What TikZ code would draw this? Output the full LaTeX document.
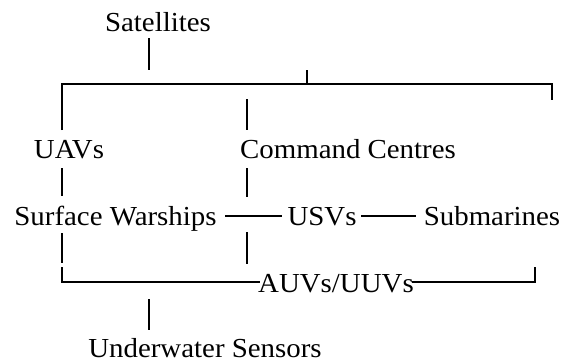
\documentclass[tikz,border=0pt]{standalone}
\usepackage{fontspec}
\setmainfont[FakeStretch=1.05]{Liberation Serif}
\begin{document}
\begin{tikzpicture}[x=1pt,y=-1pt,
  lbl/.style={font=\fontsize{27.5}{31}\selectfont, inner sep=0pt, anchor=base},
  ln/.style={line width=2pt}]
\useasboundingbox (0,0) rectangle (566,362);
% nodes
\node[lbl] (sat) at (158,31) {Satellites};
\node[lbl] (uav) at (69,158) {UAVs};
\node[lbl] (cmd) at (348,158) {Command Centres};
\node[lbl] (sw)  at (115.5,225) {Surface Warships};
\node[lbl] (usv) at (322,225) {USVs};
\node[lbl] (sub) at (492,225) {Submarines};
\node[lbl] (auv) at (336,292) {AUVs/UUVs};
\node[lbl] (uws) at (205,357) {Underwater Sensors};
% free-end coordinates
\coordinate (s1) at (148.5,38);  \coordinate (s2) at (148.5,70);
\coordinate (tl) at (62,130);    \coordinate (tc) at (62,84);
\coordinate (tr) at (552,100);   \coordinate (tk1) at (307,70);
\coordinate (tk2) at (307,84);
\coordinate (c1) at (247,99);    \coordinate (c2) at (247,130);
\coordinate (u1) at (62,168);    \coordinate (u2) at (62,196);
\coordinate (c3) at (247,168);   \coordinate (c4) at (247,197);
\coordinate (w1) at (62,233);    \coordinate (w2) at (62,263);
\coordinate (c5) at (247,232);   \coordinate (c6) at (247,264);
\coordinate (h1) at (225,216);   \coordinate (h2) at (282,216);
\coordinate (h3) at (361,216);   \coordinate (h4) at (416,216);
\coordinate (b1) at (62,267);    \coordinate (b2) at (260,282);
\coordinate (b3) at (412,282);   \coordinate (b4) at (535,267);
\coordinate (d1) at (149,299);   \coordinate (d2) at (149,330);
% connectors
\draw[ln] (s1) -- (s2);
\draw[ln] (tl) -- (tc) -- (tc -| tr) -- (tr);
\draw[ln] (tk1) -- (tk2);
\draw[ln] (c1) -- (c2);
\draw[ln] (u1) -- (u2);
\draw[ln] (c3) -- (c4);
\draw[ln] (w1) -- (w2);
\draw[ln] (c5) -- (c6);
\draw[ln] (h1) -- (h2);
\draw[ln] (h3) -- (h4);
\draw[ln] (b1) |- (b2);
\draw[ln] (b3) -| (b4);
\draw[ln] (d1) -- (d2);
\end{tikzpicture}
\end{document}
